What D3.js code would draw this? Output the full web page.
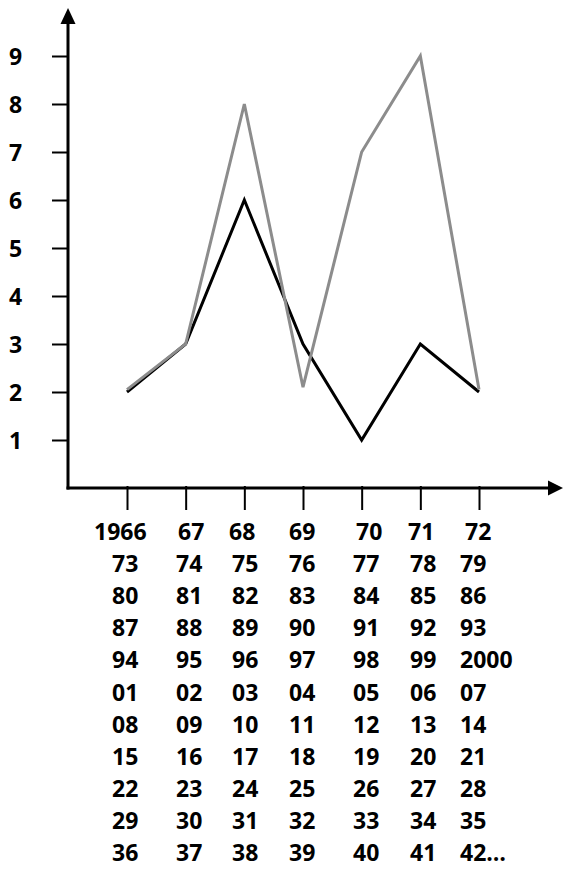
<!DOCTYPE html>
<html>
<head>
<meta charset="utf-8">
<script src="https://cdn.jsdelivr.net/npm/d3@7"></script>
<style>
  html, body { margin: 0; padding: 0; background: #fff; }
  svg { display: block; }
  text { font-family: "Open Sans", "Liberation Sans", sans-serif; font-weight: 700; fill: #000; }
</style>
</head>
<body>
<svg id="chart" width="563" height="869"></svg>
<script>
// ---- data ----
const categories = ["1966", "67", "68", "69", "70", "71", "72"];
const blackSeries = [2, 3, 6, 3, 1, 3, 2];
const graySeries = [2.05, 3, 8, 2.1, 7, 9, 2.05];
const yTicks = [1, 2, 3, 4, 5, 6, 7, 8, 9];
const yearRows = [
  ["1966", "67", "68", "69", "70", "71", "72"],
  ["73", "74", "75", "76", "77", "78", "79"],
  ["80", "81", "82", "83", "84", "85", "86"],
  ["87", "88", "89", "90", "91", "92", "93"],
  ["94", "95", "96", "97", "98", "99", "2000"],
  ["01", "02", "03", "04", "05", "06", "07"],
  ["08", "09", "10", "11", "12", "13", "14"],
  ["15", "16", "17", "18", "19", "20", "21"],
  ["22", "23", "24", "25", "26", "27", "28"],
  ["29", "30", "31", "32", "33", "34", "35"],
  ["36", "37", "38", "39", "40", "41", "42…"]
];

// ---- layout ----
const axisX = 68, axisY = 488;
const firstRowLeft = [94, 178, 229, 289, 356, 408, 465];
const colLeft = [112, 176, 232, 289, 353, 410, 460];
const fontSize = 23;

const svg = d3.select("#chart");

const x = d3.scalePoint().domain(categories).range([127, 479]);
const y = d3.scaleLinear().domain([0, 9]).range([axisY, 56]);
const rowY = d3.scaleLinear().domain([0, yearRows.length - 1]).range([540, 861]);

// data lines
const line = d3.line().x((d, i) => x(categories[i])).y(d => y(d));
svg.append("path").datum(blackSeries)
  .attr("d", line).attr("fill", "none").attr("stroke", "#000")
  .attr("stroke-width", 3).attr("stroke-linejoin", "miter");
svg.append("path").datum(graySeries)
  .attr("d", line).attr("fill", "none").attr("stroke", "#8c8c8c")
  .attr("stroke-width", 3).attr("stroke-linejoin", "miter");

// y axis ticks + labels
const yAxis = d3.axisLeft(y).tickValues(yTicks).tickSize(16).tickPadding(0).tickFormat(d3.format("d"));
const gy = svg.append("g").attr("transform", `translate(${axisX},0)`).call(yAxis);
gy.select(".domain").remove();
gy.selectAll(".tick line").attr("stroke", "#000").attr("stroke-width", 2);
gy.selectAll(".tick text").attr("x", 15.5 - axisX).attr("text-anchor", "middle")
  .attr("dy", "0.36em").attr("font-size", fontSize)
  .style("font-family", '"Open Sans", sans-serif').style("font-weight", 700);

// x axis ticks
const xAxis = d3.axisBottom(x).tickSize(24).tickFormat("");
const gx = svg.append("g").attr("transform", `translate(0,${axisY - 2})`).call(xAxis);
gx.select(".domain").remove();
gx.selectAll(".tick line").attr("stroke", "#000").attr("stroke-width", 2);

// axis lines with arrows
svg.append("line").attr("x1", axisX).attr("y1", axisY + 1.5).attr("x2", axisX).attr("y2", 22)
  .attr("stroke", "#000").attr("stroke-width", 3);
svg.append("path").attr("d", `M${axisX},8 L${axisX - 7.5},24 L${axisX + 7.5},24 Z`).attr("fill", "#000");
svg.append("line").attr("x1", axisX - 1.5).attr("y1", axisY).attr("x2", 550).attr("y2", axisY)
  .attr("stroke", "#000").attr("stroke-width", 3);
svg.append("path").attr("d", `M563,${axisY} L548,${axisY - 7.5} L548,${axisY + 7.5} Z`).attr("fill", "#000");

// year table
const rows = svg.append("g").selectAll("g").data(yearRows).join("g");
rows.selectAll("text").data((r, ri) => r.map((t, ci) => ({ t, ri, ci })))
  .join("text")
  .attr("x", d => d.ri === 0 ? firstRowLeft[d.ci] : colLeft[d.ci])
  .attr("y", d => rowY(d.ri))
  .attr("font-size", fontSize)
  .text(d => d.t);
</script>
</body>
</html>
